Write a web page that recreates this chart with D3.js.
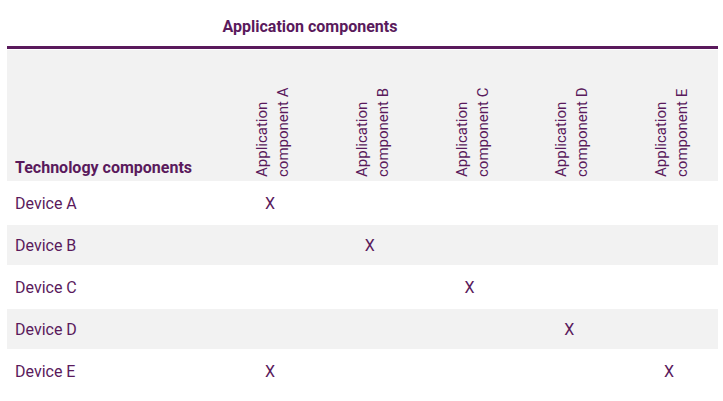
<!DOCTYPE html>
<html><head><meta charset="utf-8">
<script src="https://cdn.jsdelivr.net/npm/d3@7"></script>
<style>body{margin:0;background:#fff}text{font-family:"Liberation Sans Narrow","Roboto",sans-serif}</style>
</head><body><svg id="c" width="723" height="401"></svg>
<script>
var columns = ["Application component A","Application component B","Application component C","Application component D","Application component E"];
var rows = ["Device A","Device B","Device C","Device D","Device E"];
// marks: [row, column]
var marks = [["Device A","Application component A"],["Device B","Application component B"],
  ["Device C","Application component C"],["Device D","Application component D"],
  ["Device E","Application component A"],["Device E","Application component E"]];

var purple = "#5a1a5c", grey = "#f2f2f2";
var svg = d3.select("#c");
var x = d3.scaleBand().domain(columns).range([219, 718]);
var y = d3.scaleBand().domain(rows).range([182, 392]);

svg.append("rect").attr("x", 7).attr("y", 50).attr("width", 711).attr("height", 131).attr("fill", grey);
svg.append("rect").attr("x", 7).attr("y", 46).attr("width", 711).attr("height", 3).attr("fill", purple);

svg.append("text").attr("x", 310).attr("y", 32).attr("text-anchor", "middle")
  .attr("font-size", 16).attr("font-weight", "bold").attr("fill", purple).text("Application components");
svg.append("text").attr("x", 15).attr("y", 173)
  .attr("font-size", 16).attr("font-weight", "bold").attr("fill", purple).text("Technology components");

svg.selectAll(".band").data(rows.filter(function(d, i) { return i % 2 == 1; })).enter()
  .append("rect").attr("x", 7).attr("width", 711)
  .attr("y", function(d) { return y(d) + 1; }).attr("height", y.bandwidth() - 2).attr("fill", grey);

svg.selectAll(".rl").data(rows).enter().append("text")
  .attr("x", 15).attr("y", function(d) { return y(d) + y.bandwidth() / 2 + 6; })
  .attr("font-size", 16).attr("fill", purple).text(function(d) { return d; });

var hdr = svg.selectAll(".ch").data(columns).enter().append("text")
  .attr("transform", function(d) { return "translate(" + (x(d) + x.bandwidth() / 2) + ",177) rotate(-90)"; })
  .attr("font-size", 15).attr("fill", purple);
hdr.append("tspan").attr("x", 0).attr("y", -2).text(function(d) { return d.split(" ")[0]; });
hdr.append("tspan").attr("x", 0).attr("y", 19).text(function(d) { return d.split(" ").slice(1).join(" "); });

svg.selectAll(".mk").data(marks).enter().append("text")
  .attr("x", function(d) { return x(d[1]) + x.bandwidth() / 2 + 1; })
  .attr("y", function(d) { return y(d[0]) + y.bandwidth() / 2 + 6; })
  .attr("text-anchor", "middle").attr("font-size", 16).attr("fill", purple).text("X");
</script></body></html>
